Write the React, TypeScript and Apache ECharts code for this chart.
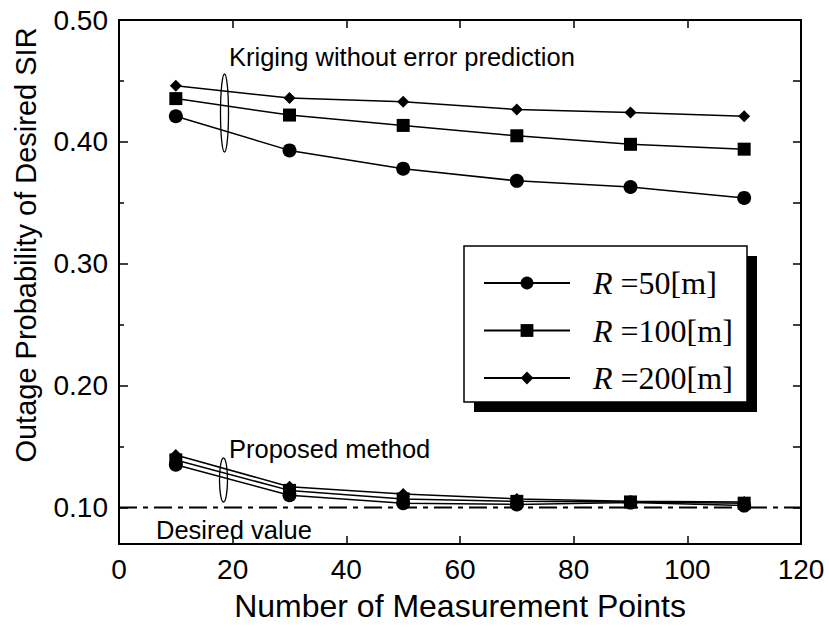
import React, { useEffect, useRef } from "react";
import * as echarts from "echarts";

const X_POINTS = [10, 30, 50, 70, 90, 110];
const RADII = ["50", "100", "200"];
const SYMBOLS = ["circle", "rect", "diamond"];
const SYMBOL_SIZES = [14, 13, 12];
const KRIG_R50 = [0.421, 0.393, 0.378, 0.368, 0.363, 0.354];
const KRIG_R100 = [0.4355, 0.422, 0.4135, 0.405, 0.398, 0.394];
const KRIG_R200 = [0.446, 0.436, 0.433, 0.4265, 0.424, 0.421];
const PROP_R50 = [0.135, 0.11, 0.1035, 0.1025, 0.104, 0.1015];
const PROP_R100 = [0.139, 0.114, 0.107, 0.105, 0.1045, 0.1035];
const PROP_R200 = [0.143, 0.117, 0.111, 0.107, 0.105, 0.1045];
const DESIRED = 0.1;
const Y_LABELS = [0.1, 0.2, 0.3, 0.4, 0.5];
const Y_MINOR = [0.15, 0.25, 0.35, 0.45];
const Y_ALL = [0.1, 0.15, 0.2, 0.25, 0.3, 0.35, 0.4, 0.45, 0.5];

const SANS = '"Liberation Sans", Arial, sans-serif';
const SERIF = '"Liberation Serif", "Times New Roman", serif';

export default function App() {
  const ref = useRef<HTMLDivElement>(null);
  useEffect(() => {
    if (!ref.current) return;
    const chart = echarts.init(ref.current, null, { renderer: "svg" });
    const krig = [KRIG_R50, KRIG_R100, KRIG_R200];
    const prop = [PROP_R50, PROP_R100, PROP_R200];
    const mk = (vals: number[], i: number) => ({
      type: "line",
      name: RADII[i],
      data: X_POINTS.map((x, k) => [x, vals[k]]),
      symbol: SYMBOLS[i],
      symbolSize: SYMBOL_SIZES[i],
      showSymbol: true,
      itemStyle: { color: "#000" },
      lineStyle: { color: "#000", width: 1.5 },
      z: 3,
    });
    const axisLine = { show: true, lineStyle: { color: "#000", width: 2 } };
    const option: any = {
      animation: false,
      backgroundColor: "#fff",
      grid: { left: 119, right: 28, top: 20, bottom: 80 },
      xAxis: [
        {
          type: "value",
          min: 0,
          max: 120,
          interval: 20,
          position: "bottom",
          axisLine,
          axisTick: { inside: true, length: 8, lineStyle: { color: "#000", width: 1.5 } },
          axisLabel: { color: "#000", fontSize: 28, fontFamily: SANS, margin: 11 },
          splitLine: { show: false },
          name: "Number of Measurement Points",
          nameLocation: "middle",
          nameGap: 46,
          nameTextStyle: { color: "#000", fontSize: 32, fontFamily: SANS },
        },
        {
          type: "value",
          min: 0,
          max: 120,
          interval: 20,
          position: "top",
          axisLine,
          axisTick: { inside: true, length: 8, lineStyle: { color: "#000", width: 1.5 } },
          axisLabel: { show: false },
          splitLine: { show: false },
        },
      ],
      yAxis: [
        {
          type: "value",
          min: 0.07,
          max: 0.5,
          position: "left",
          axisLine,
          axisTick: {
            inside: true,
            length: 9,
            customValues: Y_LABELS,
            lineStyle: { color: "#000", width: 1.5 },
          },
          axisLabel: {
            color: "#000",
            fontSize: 28,
            fontFamily: SANS,
            margin: 11,
            customValues: Y_LABELS,
            formatter: (v: number) => v.toFixed(2),
          },
          splitLine: { show: false },
        },
        {
          type: "value",
          min: 0.07,
          max: 0.5,
          position: "left",
          axisLine: { show: false },
          axisTick: {
            inside: true,
            length: 5,
            customValues: Y_MINOR,
            lineStyle: { color: "#000", width: 1.5 },
          },
          axisLabel: { show: false },
          splitLine: { show: false },
        },
        {
          type: "value",
          min: 0.07,
          max: 0.5,
          position: "right",
          axisLine,
          axisTick: {
            inside: true,
            length: 8,
            customValues: Y_ALL,
            lineStyle: { color: "#000", width: 1.5 },
          },
          axisLabel: { show: false },
          splitLine: { show: false },
        },
      ],
      legend: {
        orient: "vertical",
        left: 483,
        top: 267,
        padding: 0,
        itemGap: 15.5,
        itemWidth: 86,
        itemHeight: 16,
        z: 10,
        data: RADII,
        formatter: (name: string) => `{i|R}{n| =${name}[m]}`,
        textStyle: {
          color: "#000",
          rich: {
            i: {
              fontFamily: SERIF,
              fontStyle: "italic",
              fontSize: 32,
              lineHeight: 30,
              padding: [0, 0, 0, 18],
              color: "#000",
            },
            n: { fontFamily: SERIF, fontSize: 32, lineHeight: 30, color: "#000" },
          },
        },
      },
      graphic: [
        {
          type: "rect",
          z: 8,
          shape: { x: 474, y: 256, width: 283, height: 156 },
          style: { fill: "#000" },
        },
        {
          type: "rect",
          z: 9,
          shape: { x: 464, y: 246, width: 283, height: 156 },
          style: { fill: "#fff", stroke: "#000", lineWidth: 1.5 },
        },
        {
          type: "text",
          x: 229,
          y: 57,
          style: {
            text: "Kriging without error prediction",
            fontSize: 25.5,
            fontFamily: SANS,
            fill: "#000",
            align: "left",
            verticalAlign: "middle",
          },
        },
        {
          type: "text",
          x: 229,
          y: 449,
          style: {
            text: "Proposed method",
            fontSize: 25.5,
            fontFamily: SANS,
            fill: "#000",
            align: "left",
            verticalAlign: "middle",
          },
        },
        {
          type: "text",
          x: 156,
          y: 530,
          style: {
            text: "Desired value",
            fontSize: 25.5,
            fontFamily: SANS,
            fill: "#000",
            align: "left",
            verticalAlign: "middle",
          },
        },
        {
          type: "text",
          x: 26,
          y: 245,
          rotation: Math.PI / 2,
          style: {
            text: "Outage Probability of Desired SIR",
            fontSize: 29,
            fontFamily: SANS,
            fill: "#000",
            align: "center",
            verticalAlign: "middle",
          },
        },
        {
          type: "ellipse",
          shape: { cx: 224.5, cy: 113, rx: 4, ry: 39 },
          style: { fill: "none", stroke: "#000", lineWidth: 1.3 },
        },
        {
          type: "ellipse",
          shape: { cx: 223.5, cy: 480, rx: 4, ry: 22 },
          style: { fill: "none", stroke: "#000", lineWidth: 1.3 },
        },
      ],
      series: [
        {
          type: "line",
          name: "desired",
          data: [
            [0, DESIRED],
            [120, DESIRED],
          ],
          symbol: "none",
          lineStyle: { color: "#000", width: 2, type: [18, 6, 5, 6] },
          z: 2,
          silent: true,
        },
        ...krig.map((v, i) => mk(v, i)),
        ...prop.map((v, i) => mk(v, i)),
      ],
    };
    chart.setOption(option);
    return () => chart.dispose();
  }, []);
  return (
    <div
      ref={ref}
      style={{ position: "fixed", left: 0, top: 0, width: 829, height: 627 }}
    />
  );
}
